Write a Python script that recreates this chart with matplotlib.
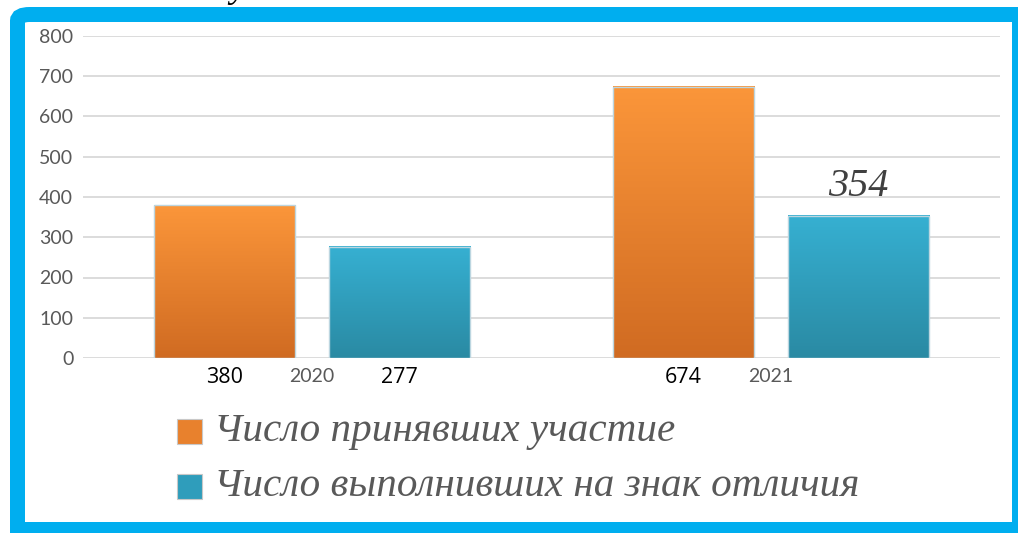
import numpy as np
import matplotlib
matplotlib.use('Agg')
import matplotlib.pyplot as plt
from matplotlib.patches import FancyBboxPatch, Rectangle
from matplotlib.colors import LinearSegmentedColormap

# data
years = ['2020', '2021']
series_names = ['Число принявших участие', 'Число выполнивших на знак отличия']
took_part = [380, 674]
passed = [277, 354]
y_ticks = [0, 100, 200, 300, 400, 500, 600, 700, 800]

ORANGE = ('#d06b22', '#fb963a')   # bottom, top
TEAL = ('#2a8aa3', '#36b0d2')
FRAME = '#00aeef'
GRAY = '#595959'

W, H = 1018, 533
fig = plt.figure(figsize=(W / 100, H / 100), dpi=100)
fig.patch.set_facecolor('white')

# blue frame: rounded top-left corner, the rest runs off the picture
frame = FancyBboxPatch((17.5 / W, (H - 560) / H), (1060 - 17.5) / W, (560 - 14.5) / H,
                       boxstyle='round,pad=0,rounding_size=0.012',
                       transform=fig.transFigure, facecolor='none',
                       edgecolor=FRAME, linewidth=10.8, zorder=-1)
fig.patches.append(frame)
fig.patches.append(Rectangle((1012 / W, 0), 10 / W, 1 - 7 / H, transform=fig.transFigure,
                             facecolor=FRAME, edgecolor='none', zorder=-1))
fig.patches.append(Rectangle((10 / W, 0), 1, 11 / H, transform=fig.transFigure,
                             facecolor=FRAME, edgecolor='none', zorder=-1))

ax = fig.add_axes([83 / W, 1 - 358 / H, (1000 - 83) / W, (358 - 36) / H])
ax.set_facecolor('none')

width = 0.308
offset = 0.191
x = np.arange(len(years))


def gradient_bar(ax, xc, h, colors):
    cmap = LinearSegmentedColormap.from_list('g', colors)
    grad = np.linspace(0, 1, 256).reshape(-1, 1)
    ax.imshow(grad, extent=[xc - width / 2, xc + width / 2, 0, h], origin='lower',
              cmap=cmap, aspect='auto', zorder=2)
    ax.add_patch(Rectangle((xc - width / 2, 0), width, h, fill=False,
                           edgecolor='#bcd6e0', linewidth=1, zorder=3))


for i in range(len(years)):
    gradient_bar(ax, x[i] - offset, took_part[i], ORANGE)
    gradient_bar(ax, x[i] + offset, passed[i], TEAL)

ax.set_xlim(-0.5, 1.5)
ax.set_ylim(0, 800)
ax.set_yticks(y_ticks)
ax.set_yticklabels([str(v) for v in y_ticks], fontsize=14, color=GRAY, family='Lato')
ax.set_xticks(x)
ax.set_xticklabels(years, fontsize=14, color=GRAY, family='Lato')
ax.tick_params(axis='y', length=0, pad=7)
ax.tick_params(axis='x', length=0, pad=7.5)
ax.grid(axis='y', color='#d9d9d9', linewidth=1.3, zorder=0)
ax.set_axisbelow(True)
for s in ax.spines.values():
    s.set_visible(False)

# value labels below the bars
for i, v in enumerate(took_part):
    ax.annotate(str(v), (x[i] - offset, 0), xytext=(0, -14), textcoords='offset points',
                ha='center', va='center', fontsize=15.5, family='Open Sans', color='black')
ax.annotate(str(passed[0]), (x[0] + offset, 0), xytext=(0, -14), textcoords='offset points',
            ha='center', va='center', fontsize=15.5, family='Open Sans', color='black')
ax.annotate(str(passed[1]), (x[1] + offset, passed[1]), xytext=(0, 21), textcoords='offset points',
            ha='center', va='center', fontsize=29, family='Liberation Serif',
            style='italic', color='#404040')

# legend
legend_cols = ['#e8812d', '#2f9dbb']
for k, name in enumerate(series_names):
    yc = [431, 486][k]
    fig.patches.append(Rectangle((177 / W, 1 - (yc + 12.5) / H), 25 / W, 25 / H,
                                 transform=fig.transFigure, facecolor=legend_cols[k],
                                 edgecolor='#c8c8c8', linewidth=0.8))
    fig.text(214 / W, 1 - yc / H, name, fontsize=29.6, family='Liberation Serif',
             style='italic', color=GRAY, va='center', ha='left')

# cut-off title fragment at the very top
fig.text(214 / W, 1 + 3 / H, 'ду', fontsize=26, family='Liberation Serif',
         style='italic', color='black', va='baseline', ha='left')

fig.savefig('out.png', dpi=100)
